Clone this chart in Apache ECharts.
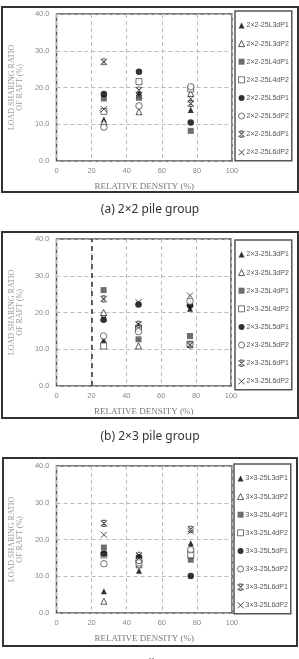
<!DOCTYPE html>
<html>
<head>
<meta charset="utf-8">
<script src="https://cdn.jsdelivr.net/npm/echarts@6/dist/echarts.min.js"></script>
<style>
  html, body { margin: 0; padding: 0; background: #fff; }
  #chart { width: 299px; height: 659px; }
</style>
</head>
<body>
<div id="chart"></div>
<script>
// relative density of the three test beds (%)
const density = [27, 47, 76.5]
const caseKeys = ['L3dP1', 'L3dP2', 'L4dP1', 'L4dP2', 'L5dP1', 'L5dP2', 'L6dP1', 'L6dP2']
const xTicks = [0, 20, 40, 60, 80, 100]
const yTicks = [0, 10, 20, 30, 40]

// load sharing ratio of raft (%), one row per case, one column per density
const ratio2x2 = [
  [11.3, 18.6, 13.9],
  [10.7, 13.4, 18.4],
  [17.0, 17.2, 8.2],
  [13.5, 21.6, 19.6],
  [18.2, 24.3, 10.5],
  [9.2, 15.0, 20.2],
  [27.0, 19.3, 15.6],
  [14.1, 17.8, 16.9]
]
const ratio2x3 = [
  [12.5, 16.4, 21.0],
  [20.0, 10.9, 22.6],
  [26.1, 12.7, 13.6],
  [10.9, 15.8, 11.4],
  [18.0, 22.2, 21.9],
  [13.6, 14.8, 23.0],
  [23.7, 16.8, 11.2],
  [18.4, 22.8, 24.6]
]
const ratio3x3 = [
  [5.9, 11.5, 19.0],
  [3.2, 13.1, 17.6],
  [17.8, 14.0, 14.5],
  [15.8, 13.6, 15.8],
  [16.1, 15.2, 10.1],
  [13.4, 14.3, 17.2],
  [24.4, 15.7, 22.8],
  [21.3, 14.9, 22.2]
]

const panels = [
  { prefix: '2×2-25', caption: '(a) 2×2 pile group', values: ratio2x2,
    grid: { left: 50, top: 14, width: 182, height: 147 },
    legend: { left: 235, top: 11 }, frame: [2, 7, 296, 185], captionY: 210 },
  { prefix: '2×3-25', caption: '(b) 2×3 pile group', values: ratio2x3,
    grid: { left: 51, top: 239, width: 180, height: 147 },
    legend: { left: 235, top: 240 }, frame: [2, 232, 296, 186], captionY: 437, line20: true },
  { prefix: '3×3-25', caption: '(c) 3×3 pile group', values: ratio3x3,
    grid: { left: 46, top: 466, width: 186, height: 147 },
    legend: { left: 234, top: 464 }, frame: [3, 458, 294, 188], captionY: 664.5 }
]

const asterisk = 'path://M0,0L10,10M10,0L0,10M2.5,0L7.5,0M2.5,10L7.5,10'
const cross = 'path://M0,0L10,10M10,0L0,10'
const markStyles = [
  { symbol: 'triangle', size: 6, itemStyle: { color: '#000', borderWidth: 0 } },
  { symbol: 'triangle', size: 6, itemStyle: { color: '#fff', borderColor: '#000', borderWidth: 0.8 } },
  { symbol: 'rect', size: 6, itemStyle: { color: '#4a4a4a', borderWidth: 0 } },
  { symbol: 'rect', size: 6, itemStyle: { color: '#fff', borderColor: '#222', borderWidth: 0.8 } },
  { symbol: 'circle', size: 6.5, itemStyle: { color: '#000', borderWidth: 0 } },
  { symbol: 'circle', size: 6.5, itemStyle: { color: '#fff', borderColor: '#222', borderWidth: 0.8 } },
  { symbol: asterisk, size: 6, itemStyle: { color: 'rgba(0,0,0,0)', borderColor: '#222', borderWidth: 1.1 } },
  { symbol: cross, size: 6, itemStyle: { color: 'rgba(0,0,0,0)', borderColor: '#222', borderWidth: 1 } }
]

const myChart = echarts.init(document.getElementById('chart'))
const serif = '"Liberation Serif", "DejaVu Serif", serif'
const sans = '"Liberation Sans", Arial, sans-serif'

const grid = []
const xAxis = []
const yAxis = []
const legend = []
const series = []
const graphic = []

panels.forEach((p, i) => {
  grid.push({
    ...p.grid,
    show: true,
    borderColor: '#555',
    borderWidth: 1.5,
    backgroundColor: 'transparent'
  })
  xAxis.push({
    gridIndex: i,
    type: 'value',
    min: xTicks[0],
    max: xTicks[xTicks.length - 1],
    interval: 20,
    name: 'RELATIVE DENSITY (%)',
    nameLocation: 'middle',
    nameGap: 21,
    nameTextStyle: { fontFamily: serif, fontSize: 9, color: '#777' },
    axisLine: { show: false },
    axisTick: { show: false },
    axisLabel: { fontFamily: sans, fontSize: 7.5, color: '#888', margin: 6 },
    splitLine: { lineStyle: { color: '#bbb', type: [4, 3], width: 1 } }
  })
  yAxis.push({
    gridIndex: i,
    type: 'value',
    min: yTicks[0],
    max: yTicks[yTicks.length - 1],
    interval: 10,
    name: 'LOAD SHARING RATIO\nOF RAFT (%)',
    nameLocation: 'middle',
    nameGap: 26,
    nameTextStyle: { fontFamily: serif, fontSize: 8, color: '#999', lineHeight: 8 },
    axisLine: { show: false },
    axisTick: { show: false },
    axisLabel: { fontFamily: sans, fontSize: 7.5, color: '#888', margin: 7, formatter: v => v.toFixed(1) },
    splitLine: { lineStyle: { color: '#bbb', type: [4, 3], width: 1 } }
  })
  const names = caseKeys.map(k => p.prefix + k)
  legend.push({
    left: p.legend.left,
    top: p.legend.top,
    orient: 'vertical',
    data: names.map((name, k) => ({
      name,
      icon: markStyles[k].symbol,
      itemStyle: { ...markStyles[k].itemStyle }
    })),
    width: 57,
    padding: [11, 3, 5, 3],
    itemGap: 11.1,
    itemWidth: 6,
    itemHeight: 6,
    selectedMode: false,
    borderColor: '#555',
    borderWidth: 1.5,
    textStyle: { fontFamily: sans, fontSize: 7, color: '#555', lineHeight: 6, padding: [0, 0, 0, -3] }
  })
  names.forEach((name, k) => {
    const s = {
      name,
      type: 'scatter',
      xAxisIndex: i,
      yAxisIndex: i,
      symbol: markStyles[k].symbol,
      symbolSize: markStyles[k].size,
      itemStyle: markStyles[k].itemStyle,
      z: 3 + k,
      data: density.map((d, j) => [d, p.values[k][j]])
    }
    if (p.line20 && k === 0) {
      s.markLine = {
        silent: true,
        symbol: 'none',
        label: { show: false },
        lineStyle: { color: '#333', type: [5, 4], width: 1.5 },
        data: [{ xAxis: 20 }]
      }
    }
    series.push(s)
  })
  const [fx, fy, fw, fh] = p.frame
  graphic.push({
    type: 'rect',
    shape: { x: fx, y: fy, width: fw, height: fh },
    style: { fill: 'none', stroke: '#333', lineWidth: 2 },
    z: -1
  })
  graphic.push({
    type: 'text',
    x: 150,
    y: p.captionY,
    style: {
      text: p.caption,
      font: '12px "Noto Sans", sans-serif',
      fill: '#333',
      textAlign: 'center',
      textVerticalAlign: 'middle'
    }
  })
})

myChart.setOption({
  animation: false,
  grid,
  xAxis,
  yAxis,
  legend,
  series,
  graphic
})
</script>
</body>
</html>
